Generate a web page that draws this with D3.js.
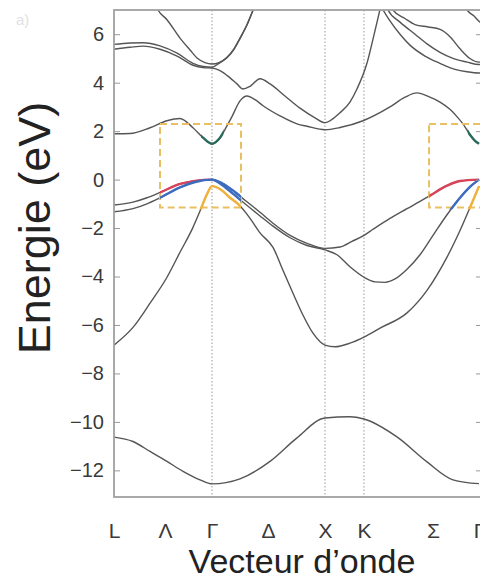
<!DOCTYPE html>
<html lang="fr">
<head>
<meta charset="UTF-8">
<title>Structure de bandes</title>
<script src="https://d3js.org/d3.v7.min.js"></script>
<style>
  body { margin: 0; background: #fff; font-family: "Liberation Sans", Arial, sans-serif; }
  .band { fill: none; stroke: #555; stroke-width: 1.4; }
  .hl { fill: none; stroke-width: 2.4; }
</style>
</head>
<body>
<svg width="480" height="581"></svg>
<script>
// path coordinate k (L = 0) and energy in eV
const kTicks = [0, 0.451, 0.867, 1.363, 1.867, 2.212, 2.823, 3.23];
const kLabels = ["L", "Λ", "Γ", "Δ", "X", "K", "Σ", "Γ"];
const symLines = [0.867, 1.867, 2.212];
const energyTicks = [-12, -10, -8, -6, -4, -2, 0, 2, 4, 6];

const bandS = [[0,-10.63],[0.168,-10.81],[0.319,-11.22],[0.469,-11.63],[0.611,-12.04],[0.761,-12.39],[0.867,-12.56],
  [1.115,-12.35],[1.381,-11.63],[1.619,-10.66],[1.867,-9.84],[2.088,-9.79],[2.212,-9.88],[2.504,-10.62],[2.770,-11.65],[3.0,-12.39],[3.23,-12.55]];
const bandSO = [[0,-6.83],[0.168,-6.1],[0.319,-5.1],[0.469,-4.03],[0.584,-3.0],[0.699,-1.97],[0.761,-1.3],[0.823,-0.6],[0.867,-0.27],
  [0.956,-0.45],[1.027,-0.75],[1.097,-1.0],[1.204,-1.6],[1.292,-2.2],[1.407,-2.8],[1.496,-3.75],[1.584,-4.69],[1.673,-5.6],[1.761,-6.34],[1.867,-6.83],
  [1.956,-6.9],[2.088,-6.75],[2.212,-6.5],[2.354,-6.13],[2.593,-5.5],[2.770,-4.57],[2.947,-3.2],[3.062,-2.1],[3.177,-0.86],[3.23,-0.27]];
const bandHH = [[0,-1.05],[0.168,-0.93],[0.292,-0.75],[0.407,-0.53],[0.584,-0.18],[0.717,-0.05],[0.867,0],
  [0.956,-0.15],[1.053,-0.45],[1.159,-0.85],[1.292,-1.35],[1.407,-1.8],[1.558,-2.3],[1.708,-2.63],[1.867,-2.84],
  [2.0,-2.78],[2.106,-2.55],[2.212,-2.3],[2.292,-2.05],[2.442,-1.6],[2.593,-1.2],[2.708,-0.9],[2.796,-0.66],[2.947,-0.25],[3.062,-0.06],[3.23,0]];
const bandLH = [[0,-1.33],[0.168,-1.2],[0.292,-1.0],[0.407,-0.75],[0.584,-0.32],[0.717,-0.1],[0.867,0],
  [0.956,-0.22],[1.053,-0.58],[1.159,-1.0],[1.292,-1.5],[1.407,-1.92],[1.558,-2.4],[1.708,-2.72],[1.867,-2.9],
  [1.973,-3.1],[2.088,-3.6],[2.212,-4.03],[2.310,-4.22],[2.398,-4.24],[2.487,-4.1],[2.593,-3.7],[2.708,-3.1],[2.823,-2.3],[2.947,-1.45],[3.062,-0.75],[3.150,-0.3],[3.23,0]];
const bandC1 = [[0,1.89],[0.142,1.9],[0.319,2.14],[0.469,2.43],[0.584,2.52],[0.699,2.14],[0.788,1.73],[0.867,1.48],
  [0.938,1.73],[1.009,2.3],[1.044,2.6],[1.115,3.25],[1.177,3.45],[1.248,3.3],[1.319,3.05],[1.469,2.63],[1.619,2.3],[1.708,2.2],[1.867,2.06],
  [2.0,2.15],[2.204,2.43],[2.442,3.0],[2.575,3.4],[2.681,3.58],[2.796,3.4],[2.885,3.2],[2.973,2.9],[3.035,2.6],[3.088,2.3],[3.150,1.85],[3.195,1.6],[3.23,1.48]];
const bandC2 = [[0,5.38],[0.142,5.46],[0.257,5.51],[0.407,5.38],[0.558,5.1],[0.699,4.72],[0.788,4.62],[0.867,4.6],
  [0.938,4.5],[1.027,4.2],[1.088,3.95],[1.142,3.74],[1.204,3.85],[1.292,4.16],[1.381,3.95],[1.513,3.45],[1.646,2.95],[1.779,2.55],[1.867,2.35],
  [2.0,2.76],[2.088,3.2],[2.150,3.74],[2.239,4.81],[2.292,5.8],[2.363,7.2]];
const bandC3 = [[0,5.58],[0.142,5.64],[0.257,5.65],[0.407,5.52],[0.558,5.22],[0.699,4.8],[0.788,4.67],[0.867,4.64],
  [0.929,4.8],[1.0,5.03],[1.062,5.38],[1.115,5.82],[1.177,6.38],[1.230,6.98],[1.257,7.3]];
const bandC4 = [[0.363,7.25],[0.389,7.0],[0.469,6.6],[0.584,5.84],[0.673,5.35],[0.735,5.02],[0.805,4.83],[0.867,4.77],
  [0.929,4.83],[1.0,5.05],[1.062,5.4],[1.115,5.84],[1.177,6.4],[1.230,7.0],[1.257,7.3]];
const bandUpA = [[2.345,7.3],[2.381,7.0],[2.442,6.55],[2.531,6.0],[2.619,5.55],[2.752,5.1],[2.885,4.8],[3.018,4.55],[3.124,4.45],[3.23,4.4],[3.265,4.4]];
const bandUpB = [[2.398,7.3],[2.425,7.0],[2.531,6.5],[2.664,6.0],[2.770,5.6],[2.885,5.25],[3.0,5.0],[3.124,4.85],[3.23,4.75],[3.265,4.75]];
const bandUpC = [[2.442,7.3],[2.469,7.0],[2.575,6.65],[2.664,6.4],[2.779,6.3],[2.885,6.2],[2.973,5.9],[3.062,5.4],[3.150,5.0],[3.23,4.85],[3.265,4.85]];
const bandUpD = [[3.088,7.3],[3.124,7.0],[3.186,6.75],[3.239,6.5],[3.265,6.45]];

const bands = [bandS, bandSO, bandHH, bandLH, bandC1, bandC2, bandC3, bandC4, bandUpA, bandUpB, bandUpC, bandUpD];

// dashed boxes: k from, k to, E low, E high
const boxes = [[0.407, 1.124, -1.15, 2.3], [2.788, 3.4, -1.15, 2.3]];
// coloured parts near Γ: [band, k from, k to, colour, box]
const highlights = [
  [bandHH, 0.407, 0.867, "#d8435a", 0],
  [bandHH, 0.867, 1.124, "#3c6cc0", 0],
  [bandLH, 0.407, 1.124, "#3c6cc0", 0],
  [bandSO, 0.70, 1.124, "#f0b23c", 0],
  [bandC1, 0.77, 0.97, "#2b6b5c", 0],
  [bandHH, 2.79, 3.3, "#d8435a", 1],
  [bandLH, 2.82, 3.3, "#3c6cc0", 1],
  [bandSO, 3.03, 3.3, "#f0b23c", 1],
  [bandC1, 3.13, 3.3, "#2b6b5c", 1]
];

const svg = d3.select("svg");
const pLeft = 114, pRight = 481, pTop = 10, pBottom = 497;

const x = d3.scaleLinear().domain([0, 3.23]).range([114, 479]);
const y = d3.scaleLinear().domain([-13.1, 7]).range([pBottom, pTop]);

const defs = svg.append("defs");
defs.append("clipPath").attr("id", "plot")
  .append("rect").attr("x", pLeft).attr("y", pTop).attr("width", pRight - pLeft).attr("height", pBottom - pTop);

// symmetry point lines
svg.append("g").selectAll("line").data(symLines).join("line")
  .attr("x1", d => x(d)).attr("x2", d => x(d))
  .attr("y1", pTop).attr("y2", pBottom)
  .attr("stroke", "#9a9a9a").attr("stroke-width", 1).attr("stroke-dasharray", "1.5,2");

const line = d3.line().x(d => x(d[0])).y(d => y(d[1])).curve(d3.curveMonotoneX);

const plot = svg.append("g").attr("clip-path", "url(#plot)");
plot.selectAll("path.band").data(bands).join("path")
  .attr("class", "band").attr("d", line);

// dashed boxes
plot.selectAll("rect.box").data(boxes).join("rect")
  .attr("class", "box")
  .attr("x", d => x(d[0])).attr("y", d => y(d[3]))
  .attr("width", d => x(d[1]) - x(d[0])).attr("height", d => y(d[2]) - y(d[3]))
  .attr("fill", "none").attr("stroke", "#e8c063").attr("stroke-width", 2).attr("stroke-dasharray", "7,4");

highlights.forEach((h, i) => {
  const b = boxes[h[4]];
  defs.append("clipPath").attr("id", "hl" + i).append("rect")
    .attr("x", x(h[1])).attr("y", y(b[3]))
    .attr("width", Math.min(x(h[2]), pRight) - x(h[1])).attr("height", y(b[2]) - y(b[3]) + 2);
  svg.append("path").attr("class", "hl").attr("d", line(h[0]))
    .attr("stroke", h[3]).attr("clip-path", "url(#hl" + i + ")");
});

// frame
svg.append("rect").attr("x", pLeft).attr("y", pTop).attr("width", pRight - pLeft).attr("height", pBottom - pTop)
  .attr("fill", "none").attr("stroke", "#a0a0a0").attr("stroke-width", 1.8);

const yAxis = svg.append("g").attr("transform", `translate(${pLeft},0)`)
  .call(d3.axisLeft(y).tickValues(energyTicks).tickSize(-6).tickPadding(10));
yAxis.select(".domain").remove();
yAxis.selectAll("line").attr("stroke", "#999");
yAxis.selectAll("text").attr("font-size", 20).attr("fill", "#3a3a3a")
  .attr("font-family", "Liberation Sans, Arial, sans-serif");

const yRight = svg.append("g").attr("transform", `translate(${pRight},0)`)
  .call(d3.axisRight(y).tickValues(energyTicks).tickSize(-5).tickFormat(""));
yRight.select(".domain").remove();
yRight.selectAll("line").attr("stroke", "#999");

const xAxis = svg.append("g").attr("transform", `translate(0,${pBottom})`)
  .call(d3.axisBottom(x).tickValues(kTicks).tickFormat((d, i) => kLabels[i]).tickSize(0).tickPadding(26));
xAxis.select(".domain").remove();
xAxis.selectAll("text").attr("font-size", 21).attr("fill", "#3a3a3a")
  .attr("font-family", "Liberation Sans, Arial, sans-serif");

svg.append("text").attr("x", 302).attr("y", 573).attr("text-anchor", "middle")
  .attr("font-size", 34).attr("fill", "#222").text("Vecteur d’onde");

svg.append("text").attr("transform", "translate(50,228) rotate(-90)").attr("text-anchor", "middle")
  .attr("font-size", 45).attr("fill", "#222").text("Energie (eV)");

svg.append("text").attr("x", 16).attr("y", 25).attr("font-size", 15).attr("fill", "#e2e2e2").text("a)");
</script>
</body>
</html>
